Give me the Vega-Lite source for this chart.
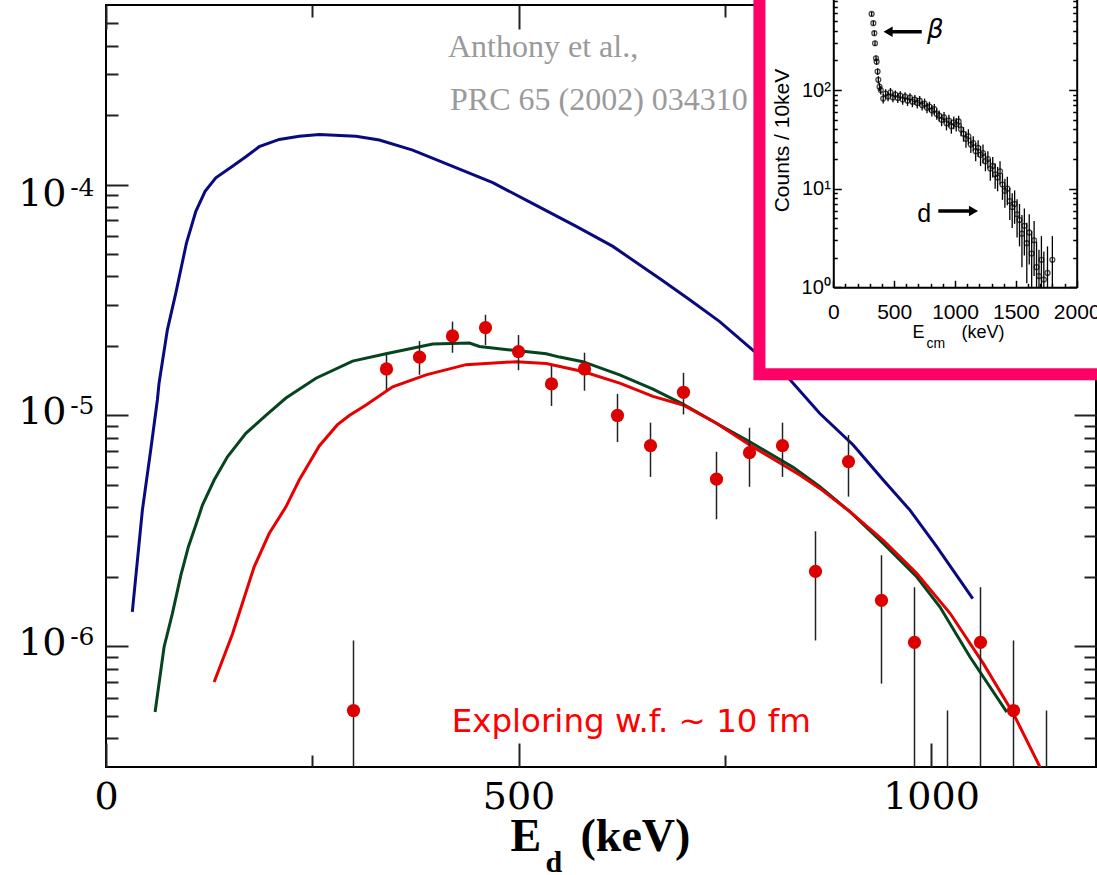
{
"$schema": "https://vega.github.io/schema/vega-lite/v6.json",
"width": 990, "height": 762,
"autosize": {"type": "none"},
"padding": {"left": 106, "top": 5, "right": 1, "bottom": 108},
"background": "white",
"config": {
  "view": {"stroke": "#000000", "strokeWidth": 2},
  "axis": {"grid": false, "domain": false, "tickColor": "#222222", "tickWidth": 2, "labelColor": "#000000", "titleColor": "#000000", "labelOverlap": false, "labelFlush": false, "labelBound": false}
},
"datasets": {
  "blue": [
    {"x":31.9,"y":1.41e-6},{"x":44.1,"y":3.89e-6},{"x":54.2,"y":7.08e-6},{"x":62.3,"y":1.17e-5},{"x":64.3,"y":1.38e-5},{"x":74.4,"y":2.35e-5},{"x":84.6,"y":3.39e-5},{"x":97.5,"y":5.58e-5},{"x":108.9,"y":7.66e-5},{"x":120.1,"y":9.35e-5},{"x":133.1,"y":1.07e-4},{"x":153.3,"y":1.20e-4},{"x":169.5,"y":1.32e-4},{"x":185.7,"y":1.46e-4},{"x":210,"y":1.57e-4},{"x":234.2,"y":1.62e-4},{"x":258.5,"y":1.65e-4},{"x":303,"y":1.62e-4},{"x":331.3,"y":1.56e-4},{"x":371.7,"y":1.41e-4},{"x":420.3,"y":1.20e-4},{"x":468.8,"y":1.02e-4},{"x":517.4,"y":8.27e-5},{"x":570,"y":6.59e-5},{"x":614.4,"y":5.40e-5},{"x":673.2,"y":3.87e-5},{"x":707.5,"y":3.17e-5},{"x":743.9,"y":2.55e-5},{"x":784,"y":1.92e-5},{"x":828.9,"y":1.43e-5},{"x":865.3,"y":1.02e-5},{"x":905.7,"y":7.45e-6},{"x":942.1,"y":5.25e-6},{"x":974.5,"y":3.89e-6},{"x":1006.9,"y":2.70e-6},{"x":1050.6,"y":1.61e-6}
  ],
  "green": [
    {"x":59.5,"y":5.19e-7},{"x":70.4,"y":9.93e-7},{"x":80.5,"y":1.39e-6},{"x":90.7,"y":2.03e-6},{"x":99.9,"y":2.70e-6},{"x":108.9,"y":3.35e-6},{"x":116.9,"y":4.09e-6},{"x":131.1,"y":5.25e-6},{"x":147.2,"y":6.62e-6},{"x":169.5,"y":8.37e-6},{"x":193.8,"y":1.00e-5},{"x":218.1,"y":1.19e-5},{"x":254.5,"y":1.45e-5},{"x":298.9,"y":1.72e-5},{"x":339.4,"y":1.85e-5},{"x":396,"y":2.04e-5},{"x":440.5,"y":2.06e-5},{"x":452.7,"y":1.99e-5},{"x":497.2,"y":1.91e-5},{"x":533.6,"y":1.85e-5},{"x":549.8,"y":1.79e-5},{"x":578,"y":1.71e-5},{"x":622.6,"y":1.50e-5},{"x":663,"y":1.30e-5},{"x":699.4,"y":1.12e-5},{"x":741.5,"y":9.19e-6},{"x":780.3,"y":7.69e-6},{"x":832.9,"y":5.96e-6},{"x":865.3,"y":4.91e-6},{"x":901.7,"y":3.83e-6},{"x":942.1,"y":2.79e-6},{"x":982.6,"y":2.00e-6},{"x":1010.9,"y":1.48e-6},{"x":1047.3,"y":8.99e-7},{"x":1091.9,"y":5.19e-7}
  ],
  "red": [
    {"x":131.1,"y":7.00e-7},{"x":153.3,"y":1.13e-6},{"x":179.6,"y":2.21e-6},{"x":197.8,"y":3.08e-6},{"x":218.1,"y":4.02e-6},{"x":234.2,"y":5.25e-6},{"x":258.5,"y":7.38e-6},{"x":280.3,"y":9.10e-6},{"x":294.9,"y":1.00e-5},{"x":315.2,"y":1.11e-5},{"x":347.5,"y":1.33e-5},{"x":388,"y":1.50e-5},{"x":436.5,"y":1.66e-5},{"x":497.2,"y":1.71e-5},{"x":533.6,"y":1.68e-5},{"x":578,"y":1.55e-5},{"x":622.6,"y":1.38e-5},{"x":663,"y":1.21e-5},{"x":699.4,"y":1.11e-5},{"x":739.9,"y":9.25e-6},{"x":780.3,"y":7.45e-6},{"x":841,"y":5.52e-6},{"x":865.3,"y":4.83e-6},{"x":901.7,"y":3.83e-6},{"x":942.1,"y":2.88e-6},{"x":982.6,"y":2.07e-6},{"x":1023.1,"y":1.39e-6},{"x":1063.5,"y":8.41e-7},{"x":1099.9,"y":5.11e-7},{"x":1132.3,"y":2.99e-7},{"x":1138,"y":2.6e-7}
  ],
  "pts": [
    {"x":300,"v":5.27e-7,"lo":1e-7,"hi":1.06e-6},
    {"x":340,"v":1.59e-5,"lo":1.29e-5,"hi":1.83e-5},
    {"x":380,"v":1.79e-5,"lo":1.50e-5,"hi":2.10e-5},
    {"x":420,"v":2.21e-5,"lo":1.87e-5,"hi":2.55e-5},
    {"x":460,"v":2.40e-5,"lo":2.02e-5,"hi":2.73e-5},
    {"x":500,"v":1.89e-5,"lo":1.57e-5,"hi":2.23e-5},
    {"x":540,"v":1.37e-5,"lo":1.10e-5,"hi":1.64e-5},
    {"x":580,"v":1.59e-5,"lo":1.28e-5,"hi":1.87e-5},
    {"x":620,"v":1.00e-5,"lo":7.67e-6,"hi":1.24e-5},
    {"x":660,"v":7.40e-6,"lo":5.42e-6,"hi":9.31e-6},
    {"x":700,"v":1.26e-5,"lo":1.01e-5,"hi":1.53e-5},
    {"x":740,"v":5.30e-6,"lo":3.55e-6,"hi":6.96e-6},
    {"x":780,"v":6.90e-6,"lo":4.91e-6,"hi":8.85e-6},
    {"x":820,"v":7.40e-6,"lo":5.42e-6,"hi":9.31e-6},
    {"x":860,"v":2.11e-6,"lo":1.06e-6,"hi":3.15e-6},
    {"x":900,"v":6.31e-6,"lo":4.45e-6,"hi":8.23e-6},
    {"x":940,"v":1.58e-6,"lo":6.89e-7,"hi":2.48e-6},
    {"x":980,"v":1.04e-6,"lo":1e-7,"hi":1.80e-6},
    {"x":1020,"v":null,"lo":1e-7,"hi":5.27e-7},
    {"x":1060,"v":1.04e-6,"lo":1e-7,"hi":1.80e-6},
    {"x":1100,"v":5.27e-7,"lo":1e-7,"hi":1.06e-6},
    {"x":1140,"v":null,"lo":1e-7,"hi":5.27e-7}
  ],
  "notes": [
    {"x":414.5,"y":3.56e-4,"t":"Anthony et al.,"},
    {"x":417,"y":2.105e-4,"t":"PRC 65 (2002) 034310"}
  ],
  "rednote": [
    {"x":419,"y":4.26e-7,"t":"Exploring w.f. ~ 10 fm"}
  ],
  "frame": [
    {"x1":-607,"x2":4000,"y1":0.131,"y2":100000}
  ],
  "ins": [
    {"e":315,"c":591,"lo":560,"hi":620},{"e":329,"c":476,"lo":450,"hi":500},{"e":337,"c":377,"lo":355,"hi":400},{"e":343,"c":298,"lo":280,"hi":316},{"e":351,"c":210,"lo":196,"hi":224},{"e":356,"c":194,"lo":180,"hi":208},{"e":364,"c":154,"lo":142,"hi":166},{"e":370,"c":127,"lo":116,"hi":138},{"e":380,"c":108,"lo":98,"hi":118},
    {"e":390,"c":100,"lo":90,"hi":110},{"e":410,"c":82,"lo":73,"hi":91},{"e":430,"c":92,"lo":82,"hi":102},{"e":450,"c":86,"lo":77,"hi":95},{"e":470,"c":95,"lo":85,"hi":105},{"e":490,"c":84,"lo":75,"hi":93},{"e":510,"c":90,"lo":81,"hi":99},{"e":530,"c":83,"lo":74,"hi":92},{"e":550,"c":88,"lo":79,"hi":97},{"e":570,"c":80,"lo":71,"hi":89},{"e":590,"c":86,"lo":77,"hi":95},{"e":610,"c":78,"lo":69,"hi":87},{"e":630,"c":84,"lo":75,"hi":93},{"e":650,"c":76,"lo":67,"hi":85},{"e":670,"c":80,"lo":71,"hi":89},{"e":690,"c":74,"lo":65,"hi":83},{"e":710,"c":78,"lo":69,"hi":87},{"e":730,"c":70,"lo":62,"hi":78},{"e":750,"c":73,"lo":65,"hi":82},{"e":770,"c":66,"lo":58,"hi":74},{"e":790,"c":68,"lo":60,"hi":76},{"e":810,"c":62,"lo":54,"hi":70},{"e":830,"c":64,"lo":56,"hi":72},{"e":850,"c":57,"lo":50,"hi":65},{"e":870,"c":55,"lo":48,"hi":62},{"e":890,"c":50,"lo":43,"hi":57},{"e":910,"c":53,"lo":46,"hi":60},{"e":930,"c":46,"lo":39,"hi":53},{"e":950,"c":49,"lo":42,"hi":56},{"e":970,"c":43,"lo":36,"hi":50},{"e":990,"c":47,"lo":40,"hi":54},{"e":1010,"c":45,"lo":38,"hi":52},{"e":1030,"c":48,"lo":41,"hi":55},{"e":1050,"c":40,"lo":34,"hi":46},{"e":1070,"c":36,"lo":30,"hi":42},{"e":1090,"c":32,"lo":26,"hi":38},{"e":1110,"c":34,"lo":28,"hi":40},{"e":1130,"c":28,"lo":23,"hi":33},{"e":1150,"c":29,"lo":24,"hi":34},{"e":1170,"c":24,"lo":19,"hi":29},{"e":1190,"c":26,"lo":21,"hi":31},{"e":1210,"c":22,"lo":17,"hi":27},{"e":1230,"c":23,"lo":18,"hi":28},{"e":1250,"c":19,"lo":15,"hi":23},{"e":1270,"c":20,"lo":16,"hi":24},{"e":1290,"c":16,"lo":12,"hi":20},{"e":1310,"c":17,"lo":13,"hi":21},{"e":1330,"c":14,"lo":10,"hi":18},{"e":1350,"c":13,"lo":9.4,"hi":16.6},{"e":1370,"c":15,"lo":11,"hi":19},{"e":1390,"c":11,"lo":7.7,"hi":14.3},{"e":1410,"c":9.5,"lo":6.4,"hi":12.6},{"e":1430,"c":10,"lo":6.8,"hi":13.2},{"e":1450,"c":7.5,"lo":4.8,"hi":10.2},{"e":1470,"c":6.5,"lo":4,"hi":9},{"e":1490,"c":7,"lo":4.4,"hi":9.6},{"e":1510,"c":5.5,"lo":3.2,"hi":7.8},{"e":1530,"c":4.8,"lo":2.6,"hi":7},{"e":1550,"c":3.5,"lo":1.6,"hi":5.4},{"e":1570,"c":4.2,"lo":2.1,"hi":6.3},{"e":1590,"c":2.8,"lo":1.1,"hi":4.5},{"e":1610,"c":3.6,"lo":1.7,"hi":5.5},{"e":1630,"c":2.2,"lo":1,"hi":3.7},{"e":1650,"c":3,"lo":1.3,"hi":4.7},{"e":1670,"c":1.6,"lo":1,"hi":2.9},{"e":1690,"c":1.3,"lo":1,"hi":2.4},{"e":1710,"c":1.9,"lo":1,"hi":3.3},{"e":1730,"c":1.2,"lo":1,"hi":2.3},{"e":1760,"c":1.4,"lo":1,"hi":2.6},{"e":1800,"c":1.9,"lo":1,"hi":3.3}
  ],
  "arrows": [
    {"e1":460,"e2":727,"c":389},
    {"e1":863,"e2":1145,"c":5.94}
  ],
  "heads": [
    {"e":450,"c":389,"sh":"triangle-left"},
    {"e":1152,"c":5.94,"sh":"triangle-right"}
  ],
  "beta": [{"e":770,"c":336,"t":"β"}],
  "dlab": [{"e":689,"c":4.57,"t":"d"}]
},
"layer": [
  {
    "layer": [
      {
        "data": {"name": "blue"},
        "mark": {"type": "line", "color": "#0a0a80", "strokeWidth": 3, "clip": true},
        "encoding": {
          "x": {"field": "x", "type": "quantitative", "scale": {"domain": [0, 1200], "nice": false, "zero": false},
                "axis": {"orient": "bottom", "values": [0, 500, 1000], "labels": false, "tickSize": -24, "title": "E", "titleX": 404, "titleY": 83, "titleAlign": "left", "titleBaseline": "alphabetic", "titleFont": "Liberation Serif", "titleFontSize": 46, "titleFontWeight": "bold"}},
          "y": {"field": "y", "type": "quantitative", "scale": {"type": "log", "domain": [3e-7, 6e-4], "nice": false},
                "axis": {"orient": "left", "values": [1e-6, 1e-5, 1e-4], "labels": false, "tickSize": -22, "title": null}}
        }
      },
      {
        "data": {"name": "green"},
        "mark": {"type": "line", "color": "#064420", "strokeWidth": 3, "clip": true},
        "encoding": {
          "x": {"field": "x", "type": "quantitative", "scale": {"domain": [0, 1200], "nice": false, "zero": false},
                "axis": {"orient": "bottom", "values": [250, 750], "labels": false, "tickSize": -12, "title": "d", "titleX": 439, "titleY": 104, "titleAlign": "left", "titleBaseline": "alphabetic", "titleFont": "Liberation Serif", "titleFontSize": 30, "titleFontWeight": "bold"}},
          "y": {"field": "y", "type": "quantitative", "scale": {"type": "log", "domain": [3e-7, 6e-4], "nice": false},
                "axis": {"orient": "left", "values": [4e-7,5e-7,6e-7,7e-7,8e-7,9e-7,2e-6,3e-6,4e-6,5e-6,6e-6,7e-6,8e-6,9e-6,2e-5,3e-5,4e-5,5e-5,6e-5,7e-5,8e-5,9e-5,2e-4,3e-4,4e-4,5e-4], "labels": false, "tickSize": -12, "title": null}}
        }
      },
      {
        "data": {"name": "red"},
        "mark": {"type": "line", "color": "#e60000", "strokeWidth": 3, "clip": true},
        "encoding": {
          "x": {"field": "x", "type": "quantitative", "scale": {"domain": [0, 1200], "nice": false, "zero": false},
                "axis": {"orient": "top", "values": [0, 500, 1000], "labels": false, "tickSize": -24, "title": null}},
          "y": {"field": "y", "type": "quantitative", "scale": {"type": "log", "domain": [3e-7, 6e-4], "nice": false},
                "axis": {"orient": "right", "values": [1e-6, 1e-5, 1e-4], "labels": false, "tickSize": -22, "title": null}}
        }
      },
      {
        "data": {"name": "pts"},
        "mark": {"type": "rule", "color": "#222222", "strokeWidth": 1.5, "clip": true},
        "encoding": {
          "x": {"field": "x", "type": "quantitative", "scale": {"domain": [0, 1200], "nice": false, "zero": false},
                "axis": {"orient": "top", "values": [250, 750], "labels": false, "tickSize": -12, "title": null}},
          "y": {"field": "lo", "type": "quantitative", "scale": {"type": "log", "domain": [3e-7, 6e-4], "nice": false},
                "axis": {"orient": "right", "values": [4e-7,5e-7,6e-7,7e-7,8e-7,9e-7,2e-6,3e-6,4e-6,5e-6,6e-6,7e-6,8e-6,9e-6,2e-5,3e-5,4e-5,5e-5,6e-5,7e-5,8e-5,9e-5,2e-4,3e-4,4e-4,5e-4], "labels": false, "tickSize": -12, "title": null}},
          "y2": {"field": "hi"}
        }
      },
      {
        "data": {"name": "pts"},
        "transform": [{"filter": "datum.v != null"}],
        "mark": {"type": "point", "shape": "circle", "filled": true, "color": "#dd0000", "opacity": 1, "size": 175, "clip": true},
        "encoding": {
          "x": {"field": "x", "type": "quantitative", "scale": {"domain": [0, 1200], "nice": false, "zero": false},
                "axis": {"orient": "bottom", "values": [0, 500, 1000], "format": "d", "ticks": false, "labelFont": "DejaVu Serif", "labelFontSize": 38, "labelPadding": 11, "title": "(keV)", "titleX": 474, "titleY": 83, "titleAlign": "left", "titleBaseline": "alphabetic", "titleFont": "Liberation Serif", "titleFontSize": 46, "titleFontWeight": "bold"}},
          "y": {"field": "v", "type": "quantitative", "scale": {"type": "log", "domain": [3e-7, 6e-4], "nice": false},
                "axis": {"orient": "left", "values": [1e-6, 1e-5, 1e-4], "ticks": false, "labelExpr": "'10'", "labelFont": "DejaVu Serif", "labelFontSize": 38, "labelPadding": 40, "labelAlign": "right", "labelBaseline": "middle", "labelOffset": {"condition": {"test": "datum.value > 5e-5", "value": 10}, "value": -3}, "title": null}}
        }
      },
      {
        "data": {"name": "notes"},
        "mark": {"type": "text", "align": "left", "baseline": "alphabetic", "font": "Liberation Serif", "fontSize": 32, "color": "#9a9a9a"},
        "encoding": {
          "x": {"field": "x", "type": "quantitative", "scale": {"domain": [0, 1200], "nice": false, "zero": false}, "axis": null},
          "y": {"field": "y", "type": "quantitative", "scale": {"type": "log", "domain": [3e-7, 6e-4], "nice": false},
                "axis": {"orient": "left", "values": [1e-6, 1e-5, 1e-4], "ticks": false, "labelExpr": "datum.value > 5e-5 ? '-4' : datum.value > 5e-6 ? '-5' : '-6'", "labelFont": "DejaVu Serif", "labelFontSize": 25, "labelPadding": 12, "labelAlign": "right", "labelBaseline": "middle", "labelOffset": {"condition": {"test": "datum.value > 5e-5", "value": 3}, "value": -10}, "title": null}},
          "text": {"field": "t", "type": "nominal"}
        }
      },
      {
        "data": {"name": "rednote"},
        "mark": {"type": "text", "align": "left", "baseline": "alphabetic", "font": "DejaVu Sans", "fontSize": 32.5, "color": "#ff0000"},
        "encoding": {
          "x": {"field": "x", "type": "quantitative", "scale": {"domain": [0, 1200], "nice": false, "zero": false}, "axis": null},
          "y": {"field": "y", "type": "quantitative", "scale": {"type": "log", "domain": [3e-7, 6e-4], "nice": false}, "axis": null},
          "text": {"field": "t", "type": "nominal"}
        }
      }
    ],
    "resolve": {"axis": {"x": "independent", "y": "independent"}}
  },
  {
    "layer": [
      {
        "data": {"name": "frame"},
        "mark": {"type": "rect", "fill": "#ffffff", "stroke": "#ff0066", "strokeWidth": 12},
        "encoding": {
          "x": {"field": "x1", "type": "quantitative", "scale": {"domain": [0, 2000], "range": [727.3, 970.7], "nice": false, "zero": false},
                "axis": {"orient": "bottom", "offset": -479.7, "labels": false, "ticks": false, "title": "(keV)", "titleX": 855, "titleY": 50, "titleAlign": "left", "titleBaseline": "alphabetic", "titleFont": "Liberation Sans", "titleFontSize": 18, "titleFontWeight": "normal", "zindex": 1}},
          "x2": {"field": "x2"},
          "y": {"field": "y1", "type": "quantitative", "scale": {"type": "log", "domain": [1, 1000], "range": [282.3, -13.6], "nice": false},
                "axis": {"orient": "left", "offset": -727.3, "labels": false, "ticks": false, "title": "Counts / 10keV", "titleX": -51, "titleY": 135, "titleAngle": -90, "titleAlign": "center", "titleBaseline": "middle", "titleFont": "Liberation Sans", "titleFontSize": 21, "titleFontWeight": "normal", "zindex": 1}},
          "y2": {"field": "y2"}
        }
      },
      {
        "data": {"name": "ins"},
        "mark": {"type": "rule", "color": "#000000", "strokeWidth": 1.3},
        "encoding": {
          "x": {"field": "e", "type": "quantitative", "scale": {"domain": [0, 2000], "range": [727.3, 970.7], "nice": false, "zero": false},
                "axis": {"orient": "bottom", "offset": -479.7, "values": [0, 500, 1000, 1500, 2000], "format": "d", "ticks": false, "labelFont": "Liberation Sans", "labelFontSize": 21, "labelPadding": 14, "title": "E", "titleX": 806, "titleY": 50, "titleAlign": "left", "titleBaseline": "alphabetic", "titleFont": "Liberation Sans", "titleFontSize": 18, "titleFontWeight": "normal", "zindex": 1}},
          "y": {"field": "lo", "type": "quantitative", "scale": {"type": "log", "domain": [1, 1000], "range": [282.3, -13.6], "nice": false},
                "axis": {"orient": "left", "offset": -727.3, "values": [1, 10, 100], "ticks": false, "labelExpr": "datum.value >= 50 ? '10²' : datum.value >= 5 ? '10¹' : '10⁰'", "labelFont": "Liberation Sans", "labelFontSize": 20, "labelPadding": 3, "labelAlign": "right", "labelBaseline": "middle", "title": null, "zindex": 1}},
          "y2": {"field": "hi"}
        }
      },
      {
        "data": {"name": "ins"},
        "mark": {"type": "point", "shape": "circle", "filled": false, "stroke": "#000000", "strokeWidth": 1.3, "size": 24},
        "encoding": {
          "x": {"field": "e", "type": "quantitative", "scale": {"domain": [0, 2000], "range": [727.3, 970.7], "nice": false, "zero": false},
                "axis": {"orient": "bottom", "offset": -479.7, "values": [0, 500, 1000, 1500, 2000], "labels": false, "tickSize": -7, "tickColor": "#000000", "tickWidth": 1.5, "domain": true, "domainColor": "#000000", "domainWidth": 2, "title": "cm", "titleX": 820, "titleY": 60, "titleAlign": "left", "titleBaseline": "alphabetic", "titleFont": "Liberation Sans", "titleFontSize": 14, "titleFontWeight": "normal", "zindex": 1}},
          "y": {"field": "c", "type": "quantitative", "scale": {"type": "log", "domain": [1, 1000], "range": [282.3, -13.6], "nice": false},
                "axis": {"orient": "left", "offset": -727.3, "values": [1, 10, 100, 1000], "labels": false, "tickSize": -8, "tickColor": "#000000", "tickWidth": 1.5, "domain": true, "domainColor": "#000000", "domainWidth": 2, "title": null, "zindex": 1}}
        }
      },
      {
        "data": {"name": "arrows"},
        "mark": {"type": "rule", "color": "#000000", "strokeWidth": 3.5},
        "encoding": {
          "x": {"field": "e1", "type": "quantitative", "scale": {"domain": [0, 2000], "range": [727.3, 970.7], "nice": false, "zero": false},
                "axis": {"orient": "bottom", "offset": -479.7, "values": [100,200,300,400,600,700,800,900,1100,1200,1300,1400,1600,1700,1800,1900], "labels": false, "tickSize": -4, "tickColor": "#000000", "tickWidth": 1.5, "title": null, "zindex": 1}},
          "x2": {"field": "e2"},
          "y": {"field": "c", "type": "quantitative", "scale": {"type": "log", "domain": [1, 1000], "range": [282.3, -13.6], "nice": false},
                "axis": {"orient": "left", "offset": -727.3, "values": [2,3,4,5,6,7,8,9,20,30,40,50,60,70,80,90,200,300,400,500,600,700,800,900], "labels": false, "tickSize": -4, "tickColor": "#000000", "tickWidth": 1.5, "title": null, "zindex": 1}}
        }
      },
      {
        "data": {"name": "heads"},
        "mark": {"type": "point", "filled": true, "color": "#000000", "opacity": 1, "size": 110},
        "encoding": {
          "x": {"field": "e", "type": "quantitative", "scale": {"domain": [0, 2000], "range": [727.3, 970.7], "nice": false, "zero": false}, "axis": null},
          "y": {"field": "c", "type": "quantitative", "scale": {"type": "log", "domain": [1, 1000], "range": [282.3, -13.6], "nice": false},
                "axis": {"orient": "right", "offset": -19.3, "values": [1, 10, 100, 1000], "labels": false, "tickSize": -8, "tickColor": "#000000", "tickWidth": 1.5, "domain": true, "domainColor": "#000000", "domainWidth": 2, "title": null, "zindex": 1}},
          "shape": {"field": "sh", "type": "nominal", "scale": null, "legend": null}
        }
      },
      {
        "data": {"name": "beta"},
        "mark": {"type": "text", "align": "left", "baseline": "alphabetic", "font": "DejaVu Sans", "fontStyle": "italic", "fontSize": 26, "color": "#000000"},
        "encoding": {
          "x": {"field": "e", "type": "quantitative", "scale": {"domain": [0, 2000], "range": [727.3, 970.7], "nice": false, "zero": false}, "axis": null},
          "y": {"field": "c", "type": "quantitative", "scale": {"type": "log", "domain": [1, 1000], "range": [282.3, -13.6], "nice": false},
                "axis": {"orient": "right", "offset": -19.3, "values": [2,3,4,5,6,7,8,9,20,30,40,50,60,70,80,90,200,300,400,500,600,700,800,900], "labels": false, "tickSize": -4, "tickColor": "#000000", "tickWidth": 1.5, "title": null, "zindex": 1}},
          "text": {"field": "t", "type": "nominal"}
        }
      },
      {
        "data": {"name": "dlab"},
        "mark": {"type": "text", "align": "left", "baseline": "alphabetic", "font": "Liberation Sans", "fontSize": 25, "color": "#000000"},
        "encoding": {
          "x": {"field": "e", "type": "quantitative", "scale": {"domain": [0, 2000], "range": [727.3, 970.7], "nice": false, "zero": false}, "axis": null},
          "y": {"field": "c", "type": "quantitative", "scale": {"type": "log", "domain": [1, 1000], "range": [282.3, -13.6], "nice": false}, "axis": null},
          "text": {"field": "t", "type": "nominal"}
        }
      }
    ],
    "resolve": {"axis": {"x": "independent", "y": "independent"}}
  }
],
"resolve": {"scale": {"x": "independent", "y": "independent"}, "axis": {"x": "independent", "y": "independent"}}
}
